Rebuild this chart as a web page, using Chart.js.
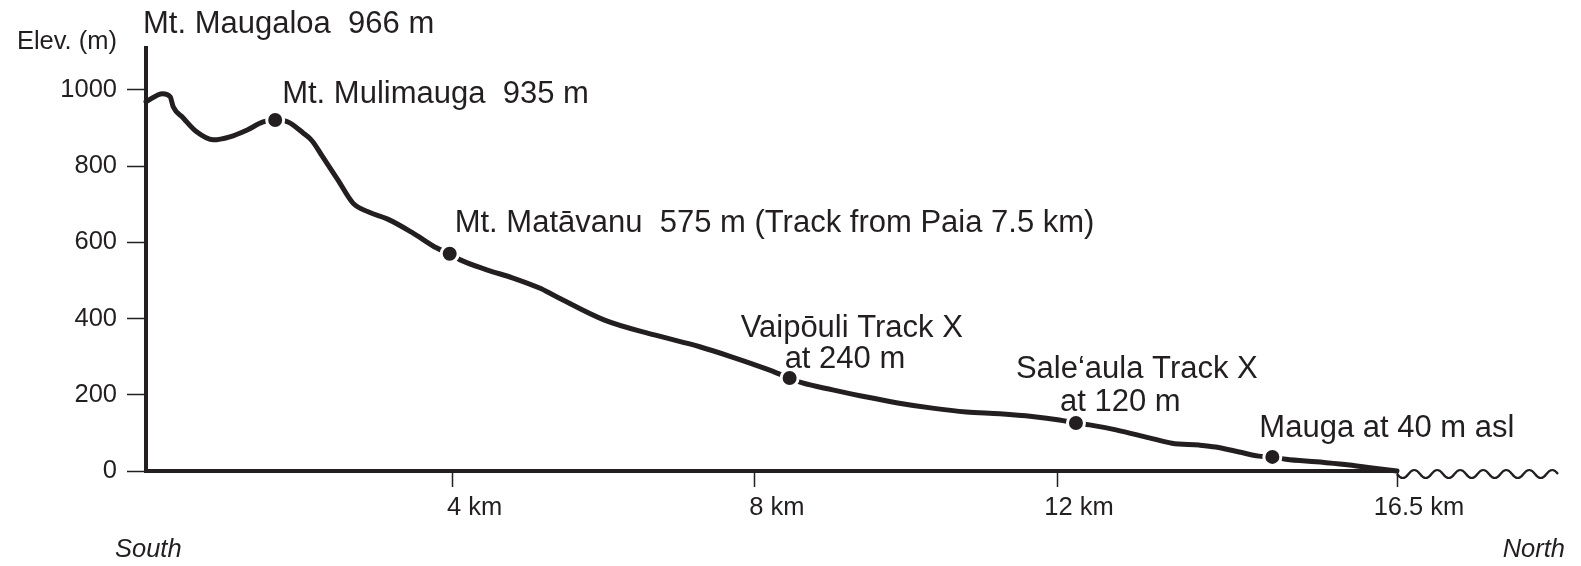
<!DOCTYPE html>
<html>
<head>
<meta charset="utf-8">
<script src="https://cdn.jsdelivr.net/npm/chart.js@4.4.0/dist/chart.umd.min.js"></script>
<style>
  html, body { margin: 0; background: #fff; }
</style>
</head>
<body>
<canvas id="profileChart" width="1581" height="566"></canvas>
<script>
// profile of the track (km from south end, metres asl)
const distanceKm = [-0.06, 0.16, 0.26, 0.30, 0.43, 0.61, 0.83, 1.05, 1.28, 1.49, 1.65, 1.82, 2.02, 2.14, 2.28, 2.48,
  2.68, 2.88, 3.14, 3.47, 3.79, 3.96, 4.10, 4.45, 4.79, 5.15, 5.35, 6.01, 6.67, 7.27, 7.70, 8.15, 8.46, 8.63,
  9.03, 9.48, 9.91, 10.35, 10.80, 11.24, 11.67, 12.03, 12.25, 12.43, 12.78, 13.22, 13.52, 13.88, 14.10, 14.41,
  14.67, 14.85, 15.03, 15.43, 15.87, 16.17, 16.5];
const elevationM = [969, 990, 982, 956, 927, 890, 869, 877, 895, 916, 921, 916, 887, 866, 824, 764,
  703, 680, 661, 625, 585, 570, 554, 528, 507, 480, 460, 396, 357, 326, 299, 268, 244, 231,
  213, 194, 178, 165, 155, 150, 143, 134, 126, 121, 108, 87, 73, 68, 63, 50,
  39, 37, 31, 24, 16, 8, 0];

// marked places along the track
const landmarkKm = [1.65, 3.96, 8.46, 12.25, 14.85];
const landmarkM = [921, 570, 244, 126, 37];
const landmarkText = [
  ['Mt. Mulimauga  935 m'],
  ['Mt. Matāvanu  575 m (Track from Paia 7.5 km)'],
  ['Vaipōuli Track X', 'at 240 m'],
  ['Sale‘aula Track X', 'at 120 m'],
  ['Mauga at 40 m asl']
];
const summitText = 'Mt. Maugaloa  966 m';

const xTicks = [4, 8, 12, 16.5];
const yTicks = [0, 200, 400, 600, 800, 1000];

// pixel offsets of each label line from its dot (left edge, baseline)
const labelOffsets = [
  [[7, -17]],
  [[5, -22]],
  [[-49, -41], [-5, -10]],
  [[-60, -45], [-16, -12]],
  [[-13, -20]]
];

const INK = '#231f20';
const FONT = '"Liberation Sans", Arial, sans-serif';

const labelsPlugin = {
  id: 'profileLabels',
  afterDraw(chart) {
    const ctx = chart.ctx;
    const xs = chart.scales.x, ys = chart.scales.y;
    const area = chart.chartArea;
    ctx.save();
    ctx.fillStyle = INK;
    ctx.textBaseline = 'alphabetic';

    // sea beyond the end of the profile
    const x0 = xs.getPixelForValue(xTicks[xTicks.length - 1]);
    const y0 = ys.getPixelForValue(0) + 3;
    const xEnd = chart.width - 23;
    ctx.strokeStyle = INK;
    ctx.lineWidth = 2.2;
    ctx.beginPath();
    ctx.moveTo(x0, y0);
    let up = false;
    for (let x = x0; x + 11.5 <= xEnd + 1; x += 11.5) {
      ctx.quadraticCurveTo(x + 5.75, y0 + (up ? -8 : 8), x + 11.5, y0);
      up = !up;
    }
    ctx.stroke();

    // place names
    ctx.font = '31px ' + FONT;
    ctx.textAlign = 'left';
    landmarkText.forEach((lines, i) => {
      const px = xs.getPixelForValue(landmarkKm[i]);
      const py = ys.getPixelForValue(landmarkM[i]);
      lines.forEach((t, j) => {
        const [dx, dy] = labelOffsets[i][j];
        ctx.fillText(t, px + dx, py + dy);
      });
    });
    ctx.fillText(summitText, area.left - 3, area.top - 15);

    // axis title
    ctx.font = '25.5px ' + FONT;
    ctx.textAlign = 'right';
    ctx.fillText('Elev. (m)', area.left - 29, area.top + 1);

    // compass directions
    ctx.font = 'italic 25.5px ' + FONT;
    ctx.textAlign = 'left';
    ctx.fillText('South', 115, 557);
    ctx.textAlign = 'right';
    ctx.fillText('North', 1565, 557);
    ctx.restore();
  }
};

new Chart(document.getElementById('profileChart'), {
  type: 'scatter',
  data: {
    datasets: [
      {
        label: 'places',
        data: landmarkKm.map((x, i) => ({ x, y: landmarkM[i] })),
        showLine: false,
        pointRadius: 8.5,
        pointBorderWidth: 3,
        pointBackgroundColor: INK,
        pointBorderColor: '#fff',
        order: 0
      },
      {
        label: 'elevation',
        data: distanceKm.map((x, i) => ({ x, y: elevationM[i] })),
        showLine: true,
        borderColor: INK,
        borderWidth: 5,
        pointRadius: 0,
        cubicInterpolationMode: 'monotone',
        borderCapStyle: 'round',
        borderJoinStyle: 'round',
        clip: false,
        order: 1
      }
    ]
  },
  options: {
    responsive: false,
    animation: false,
    devicePixelRatio: 1,
    layout: { padding: { top: 48, right: 184, left: 0, bottom: 0 } },
    plugins: { legend: { display: false }, tooltip: { enabled: false } },
    scales: {
      x: {
        type: 'linear',
        min: -0.06,
        max: 16.5,
        afterBuildTicks: s => { s.ticks = xTicks.map(v => ({ value: v })); },
        afterFit: s => { s.height = 95; },
        ticks: {
          callback: v => v + ' km',
          font: { family: FONT, size: 25.5 },
          color: INK,
          labelOffset: 22,
          padding: 6,
          maxRotation: 0,
          autoSkip: false
        },
        grid: { drawOnChartArea: false, tickLength: 16, tickWidth: 1.5, tickColor: INK },
        border: { color: INK, width: 4 }
      },
      y: {
        min: 0,
        max: 1110,
        afterBuildTicks: s => { s.ticks = yTicks.map(v => ({ value: v })); },
        afterFit: s => { s.width = 146; },
        ticks: {
          callback: v => String(v),
          font: { family: FONT, size: 25.5 },
          color: INK,
          padding: 10
        },
        grid: { drawOnChartArea: false, tickLength: 19, tickWidth: 1.5, tickColor: INK },
        border: { color: INK, width: 4 }
      }
    }
  },
  plugins: [labelsPlugin]
});
</script>
</body>
</html>
